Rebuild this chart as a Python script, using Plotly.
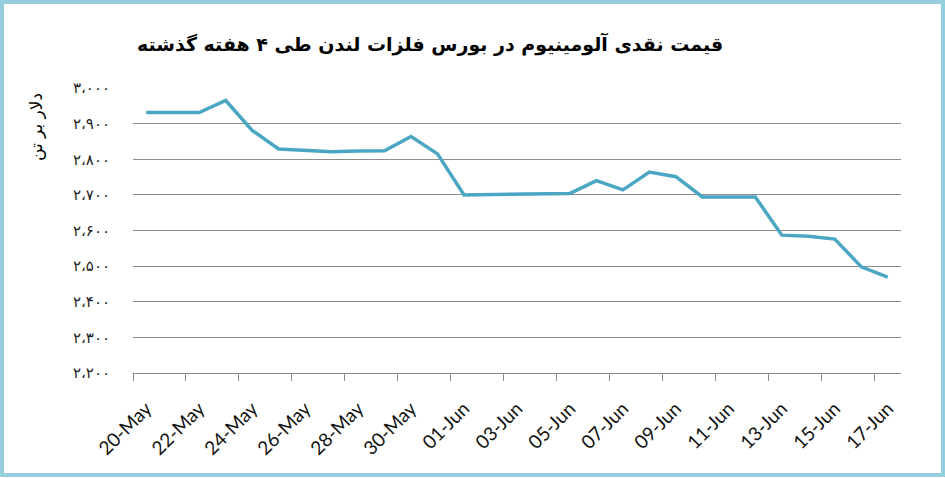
import plotly.graph_objects as go

# LME aluminium cash price, last 4 weeks (USD/t)
dates = [
    "20-May", "21-May", "22-May", "23-May", "24-May", "25-May", "26-May",
    "27-May", "28-May", "29-May", "30-May", "31-May", "01-Jun", "02-Jun",
    "03-Jun", "04-Jun", "05-Jun", "06-Jun", "07-Jun", "08-Jun", "09-Jun",
    "10-Jun", "11-Jun", "12-Jun", "13-Jun", "14-Jun", "15-Jun", "16-Jun",
    "17-Jun",
]
prices = [
    2931, 2931, 2931, 2965, 2881, 2829, 2824, 2821, 2823, 2824,
    2864, 2815, 2700, 2701, 2703, 2704, 2704, 2740, 2714, 2764,
    2751, 2694, 2694, 2694, 2587, 2584, 2576, 2498, 2469,
]
y_ticks = [2200, 2300, 2400, 2500, 2600, 2700, 2800, 2900, 3000]
y_labels = ["۲،۲۰۰", "۲،۳۰۰", "۲،۴۰۰", "۲،۵۰۰", "۲،۶۰۰",
            "۲،۷۰۰", "۲،۸۰۰", "۲،۹۰۰", "۳،۰۰۰"]

title = "قیمت نقدی آلومینیوم در بورس فلزات لندن طی ۴ هفته گذشته"
y_title = "دلار بر تن"

W, H = 945, 478
ML, MR, MT, MB = 133, 44, 88, 105
pw, ph = W - ML - MR, H - MT - MB
GREY = "#8c8c8c"

n = len(dates)
label_idx = list(range(0, n, 2))

fig = go.Figure()
fig.add_trace(
    go.Scatter(
        x=dates,
        y=prices,
        mode="lines",
        line=dict(color="#4ba6c3", width=3.5),
        showlegend=False,
        hoverinfo="x+y",
    )
)
# empty trace so the tick-mark axis gets drawn
fig.add_trace(go.Scatter(x=[], y=[], xaxis="x2", showlegend=False))

fig.update_layout(
    xaxis=dict(
        type="category",
        range=[-0.5, n - 0.5],
        tickmode="array",
        tickvals=[dates[i] for i in label_idx],
        ticktext=[dates[i] for i in label_idx],
        tickangle=-45,
        ticks="",
        ticklabelstandoff=16,
        showline=True,
        linecolor=GREY,
        linewidth=1,
        showgrid=False,
        tickfont=dict(family="Lato", size=19, color="#111111"),
    ),
    # tick marks sit on the left edge of every labelled category
    xaxis2=dict(
        overlaying="x",
        anchor="y",
        side="bottom",
        range=[-0.5, n - 0.5],
        tickmode="array",
        tickvals=[i - 0.5 for i in label_idx],
        showticklabels=False,
        ticks="outside",
        ticklen=7,
        tickcolor=GREY,
        showgrid=False,
        zeroline=False,
        showline=False,
    ),
    yaxis=dict(
        range=[2200, 3000],
        tickmode="array",
        tickvals=y_ticks,
        ticktext=y_labels,
        showgrid=True,
        gridcolor=GREY,
        gridwidth=1,
        zeroline=False,
        showline=False,
        ticklabelstandoff=22,
        tickfont=dict(family="DejaVu Sans", size=15, color="#222222"),
    ),
)

fig.add_annotation(
    text=title,
    xref="paper", yref="paper",
    x=(430 - ML) / pw, y=1 + (MT - 44) / ph,
    xanchor="center", yanchor="middle",
    showarrow=False,
    font=dict(family="DejaVu Sans", size=19, color="#000000", weight="bold"),
)
fig.add_annotation(
    text=y_title,
    xref="paper", yref="paper",
    x=(36 - ML) / pw, y=1 - (127 - MT) / ph,
    xanchor="center", yanchor="middle",
    textangle=-90,
    showarrow=False,
    font=dict(family="DejaVu Sans", size=17, color="#000000"),
)

# light blue frame around the whole picture
fig.add_shape(
    type="rect",
    xref="paper", yref="paper",
    x0=(2 - ML) / pw, x1=1 + (MR - 2) / pw,
    y0=-(MB - 3) / ph, y1=1 + (MT - 2) / ph,
    line=dict(color="#95cedd", width=4),
)

fig.update_layout(
    width=W,
    height=H,
    margin=dict(l=ML, r=MR, t=MT, b=MB),
    plot_bgcolor="white",
    paper_bgcolor="white",
)

fig.write_html(
    "out.html",
    config={"displayModeBar": False},
    post_script="document.body.style.margin = '0px';",
)
